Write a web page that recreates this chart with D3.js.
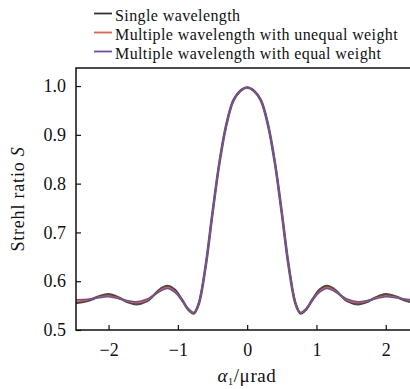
<!DOCTYPE html>
<html><head><meta charset="utf-8">
<script src="https://cdn.jsdelivr.net/npm/d3@7"></script>
<style>body{margin:0;background:#fff}svg{display:block}</style>
</head><body>
<svg id="c" width="410" height="389"></svg>
<script>
const alpha = [-2.55,-2.45,-2.3,-2.15,-2.0,-1.85,-1.75,-1.6,-1.45,-1.35,-1.25,-1.15,-1.05,-0.95,-0.85,-0.77,-0.7,-0.6,-0.5,-0.4,-0.3,-0.2,-0.1,0,
  0.1,0.2,0.3,0.4,0.5,0.6,0.7,0.77,0.85,0.95,1.05,1.15,1.25,1.35,1.45,1.6,1.75,1.85,2.0,2.15,2.3,2.45,2.55];
const single = [0.557,0.556,0.560,0.568,0.573,0.566,0.559,0.553,0.559,0.571,0.584,0.590,0.583,0.564,0.542,0.534,0.553,0.630,0.740,0.843,0.921,0.970,0.990,0.997,
  0.990,0.970,0.921,0.843,0.740,0.630,0.553,0.534,0.542,0.564,0.583,0.590,0.584,0.571,0.559,0.553,0.559,0.566,0.573,0.568,0.560,0.556,0.557];
const unequal = [0.559,0.559,0.562,0.567,0.570,0.565,0.560,0.556,0.561,0.571,0.582,0.587,0.580,0.563,0.543,0.535,0.554,0.630,0.740,0.843,0.921,0.970,0.990,0.997,
  0.990,0.970,0.921,0.843,0.740,0.630,0.554,0.535,0.543,0.563,0.580,0.587,0.582,0.571,0.561,0.556,0.560,0.565,0.570,0.567,0.562,0.559,0.559];
const equal = [0.562,0.562,0.563,0.566,0.568,0.564,0.561,0.558,0.563,0.571,0.580,0.585,0.578,0.562,0.544,0.536,0.555,0.631,0.740,0.843,0.921,0.970,0.990,0.997,
  0.990,0.970,0.921,0.843,0.740,0.631,0.555,0.536,0.544,0.562,0.578,0.585,0.580,0.571,0.563,0.558,0.561,0.564,0.568,0.566,0.563,0.562,0.562];
const seriesNames = ["Single wavelength","Multiple wavelength with unequal weight","Multiple wavelength with equal weight"];
const xTicks = [-2,-1,0,1,2];
const yTicks = [0.5,0.6,0.7,0.8,0.9,1.0];

const FONT = '"Liberation Serif","DejaVu Serif","Times New Roman",Times,serif';
const svg = d3.select("#c");
const L=76, R=450, T=68, B=330;
const x = d3.scaleLinear().domain([-2.47, 2.35+ (40/69.3)]).range([L, R]);
const y = d3.scaleLinear().domain([0.5, 1.037]).range([B, T]);

svg.append("defs").append("clipPath").attr("id","clip").append("rect")
  .attr("x",L).attr("y",T).attr("width",410-L).attr("height",B-T);

const line = d3.line().x((d,i)=>x(alpha[i])).y(d=>y(d)).curve(d3.curveCatmullRom.alpha(0.5));
const g = svg.append("g").attr("clip-path","url(#clip)");
const styles = [
  {data:single, color:"#4a4a4a", w:2.6},
  {data:unequal, color:"#e8603c", w:1.4},
  {data:equal, color:"#6a4fa5", w:1.5}
];
styles.forEach(s=>{
  g.append("path").attr("d",line(s.data)).attr("fill","none").attr("stroke",s.color).attr("stroke-width",s.w);
});

// axes
const fmt = d=> d<0 ? "\u2212"+Math.abs(d) : String(d);
const xa = svg.append("g").attr("transform",`translate(0,${B})`)
  .call(d3.axisBottom(x).tickValues(xTicks).tickSize(-5).tickPadding(10).tickFormat(fmt));
const ya = svg.append("g").attr("transform",`translate(${L},0)`)
  .call(d3.axisLeft(y).tickValues(yTicks).tickSize(-5).tickPadding(10).tickFormat(d3.format(".1f")));
[xa,ya].forEach(a=>{
  a.attr("font-family",FONT).attr("font-size",18);
  a.select(".domain").remove();
  a.selectAll(".tick line").attr("stroke","#111").attr("stroke-width",1.2);
  a.selectAll(".tick text").attr("fill","#111");
});
xa.selectAll(".tick text").attr("dy","0.9em");
// frame
svg.append("path").attr("d",`M410,${T}H${L}V${B}H410`).attr("fill","none").attr("stroke","#111").attr("stroke-width",1.5);

// labels
svg.append("text").attr("transform",`translate(24,${(T+B)/2}) rotate(-90)`).attr("text-anchor","middle")
  .attr("font-family",FONT).attr("font-size",18).attr("letter-spacing",0.8).attr("fill","#111")
  .html('Strehl ratio <tspan font-style="italic">S</tspan>');
svg.append("text").attr("x",247).attr("y",382).attr("text-anchor","middle").attr("font-size",19)
  .attr("font-family",FONT).attr("letter-spacing",0.6).attr("fill","#111")
  .html('<tspan font-style="italic">α</tspan><tspan font-size="10" dy="3">1</tspan><tspan dy="-3">/μrad</tspan>');

// legend
const legColors = ["#333","#e8603c","#6a4fa5"];
seriesNames.forEach((n,i)=>{
  const yy = 13.5 + i*19;
  svg.append("line").attr("x1",94).attr("x2",112).attr("y1",yy).attr("y2",yy).attr("stroke",legColors[i]).attr("stroke-width",1.8);
  svg.append("text").attr("x",115).attr("y",yy+7).attr("font-size",16).attr("letter-spacing",0.4)
    .attr("font-family",FONT).attr("fill","#111").text(n);
});
</script>
</body></html>
